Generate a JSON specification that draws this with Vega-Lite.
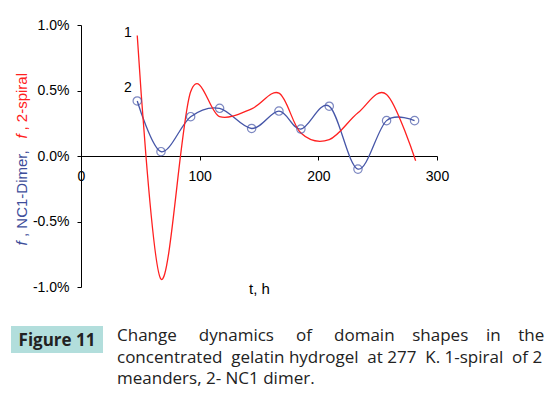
{
  "$schema": "https://vega.github.io/schema/vega-lite/v6.json",
  "background": "white",
  "padding": {"left": 11, "top": 18, "right": 0, "bottom": 0},
  "datasets": {
    "nc1": [
      {"t": 47.4, "f": 0.0042}, {"t": 67.4, "f": 0.00033}, {"t": 92.4, "f": 0.0030},
      {"t": 116.8, "f": 0.00364}, {"t": 143.8, "f": 0.0021}, {"t": 166.8, "f": 0.00343},
      {"t": 185.3, "f": 0.00206}, {"t": 209.2, "f": 0.0038}, {"t": 233.4, "f": -0.0010},
      {"t": 257.5, "f": 0.0027}, {"t": 281.1, "f": 0.0027}
    ],
    "spiral": [
      {"t": 47.4, "f": 0.0092}, {"t": 67.4, "f": -0.0094}, {"t": 92.4, "f": 0.0049},
      {"t": 116.8, "f": 0.0030}, {"t": 143.8, "f": 0.0036}, {"t": 166.8, "f": 0.0048},
      {"t": 185.3, "f": 0.00175}, {"t": 209.2, "f": 0.00125}, {"t": 233.4, "f": 0.0033},
      {"t": 257.5, "f": 0.0047}, {"t": 282.0, "f": -0.00036}
    ],
    "labels": [
      {"t": 39.6, "f": 0.0094, "label": "1"},
      {"t": 39.6, "f": 0.0052, "label": "2"}
    ],
    "box": [{"label": "Figure 11"}],
    "caption": [
      {"line": 1, "text": "Change\u00a0\u00a0\u00a0\u00a0\u00a0dynamics\u00a0\u00a0\u00a0\u00a0\u00a0of\u00a0\u00a0\u00a0\u00a0\u00a0domain\u00a0\u00a0\u00a0\u00a0shapes\u00a0\u00a0\u00a0\u00a0in\u00a0\u00a0\u00a0\u00a0the"},
      {"line": 2, "text": "concentrated\u00a0\u00a0gelatin\u00a0hydrogel\u00a0\u00a0at\u00a0277\u00a0\u00a0K.\u00a01-spiral\u00a0\u00a0of\u00a02"},
      {"line": 3, "text": "meanders, 2- NC1 dimer."}
    ]
  },
  "config": {
    "view": {"stroke": null},
    "axis": {
      "labelFont": "Liberation Sans", "titleFont": "Liberation Sans",
      "labelColor": "#000000", "titleColor": "#000000", "titleFontWeight": "normal",
      "domainColor": "#000000", "tickColor": "#000000", "grid": false
    }
  },
  "vconcat": [
    {
      "hconcat": [
        {
          "width": 1,
          "height": 262,
          "data": {"values": [{}]},
          "mark": {"type": "point", "opacity": 0, "size": 0, "strokeWidth": 0},
          "encoding": {}
        },
        {
          "width": 356,
          "height": 262,
          "layer": [
            {
              "data": {"name": "nc1"},
              "mark": {"type": "line", "interpolate": "cardinal", "color": "#4656a8", "strokeWidth": 1.3},
              "encoding": {
                "x": {
                  "field": "t", "type": "quantitative",
                  "scale": {"domain": [0, 300], "nice": false},
                  "axis": {
                    "values": [0, 100, 200, 300], "offset": -131, "tickSize": 4, "labelPadding": 9,
                    "labelFontSize": 14, "labelFlush": false, "labelOverlap": false,
                    "title": "t, h", "titleFontSize": 15, "titleY": 132, "titleBaseline": "middle"
                  }
                },
                "y": {
                  "field": "f", "type": "quantitative",
                  "scale": {"domain": [-0.01, 0.01], "nice": false},
                  "axis": {
                    "orient": "left",
                    "values": [-0.01, -0.005, 0, 0.005, 0.01], "tickSize": 4, "labelPadding": 8,
                    "labelFontSize": 14, "format": ".1%",
                    "labelExpr": "replace(datum.label, '\u2212', '-')",
                    "title": "f", "titleFontStyle": "italic", "titleColor": "#3d4d9a", "titleFontSize": 15,
                    "titleAngle": 270, "titleAlign": "left", "titleBaseline": "middle",
                    "titleX": -60, "titleY": 220
                  }
                }
              }
            },
            {
              "data": {"name": "spiral"},
              "mark": {"type": "line", "interpolate": "cardinal", "color": "#ff2020", "strokeWidth": 1.3},
              "encoding": {
                "x": {"field": "t", "type": "quantitative"},
                "y": {
                  "field": "f", "type": "quantitative",
                  "scale": {"domain": [-0.01, 0.01], "nice": false},
                  "axis": {
                    "orient": "left", "labels": false, "ticks": false, "domain": false,
                    "title": ", NC1-Dimer,", "titleColor": "#3d4d9a", "titleFontSize": 15,
                    "titleAngle": 270, "titleAlign": "left", "titleBaseline": "middle",
                    "titleX": -60, "titleY": 211.5
                  }
                }
              }
            },
            {
              "data": {"name": "nc1"},
              "mark": {"type": "point", "shape": "circle", "filled": false, "color": "#4656a8", "size": 70, "strokeWidth": 1.2},
              "encoding": {
                "x": {"field": "t", "type": "quantitative"},
                "y": {
                  "field": "f", "type": "quantitative",
                  "scale": {"domain": [-0.01, 0.01], "nice": false},
                  "axis": {
                    "orient": "left", "labels": false, "ticks": false, "domain": false,
                    "title": "f", "titleFontStyle": "italic", "titleColor": "#ff2020", "titleFontSize": 15,
                    "titleAngle": 270, "titleAlign": "left", "titleBaseline": "middle",
                    "titleX": -60, "titleY": 113
                  }
                }
              }
            },
            {
              "data": {"name": "labels"},
              "mark": {"type": "text", "font": "Liberation Sans", "fontSize": 14, "color": "#000000"},
              "encoding": {
                "x": {"field": "t", "type": "quantitative"},
                "y": {
                  "field": "f", "type": "quantitative",
                  "scale": {"domain": [-0.01, 0.01], "nice": false},
                  "axis": {
                    "orient": "left", "labels": false, "ticks": false, "domain": false,
                    "title": ", 2-spiral", "titleColor": "#ff2020", "titleFontSize": 15,
                    "titleAngle": 270, "titleAlign": "left", "titleBaseline": "middle",
                    "titleX": -60, "titleY": 105
                  }
                },
                "text": {"field": "label"}
              }
            }
          ],
          "resolve": {"axis": {"y": "independent"}}
        }
      ],
      "spacing": 2
    },
    {
      "hconcat": [
        {
          "width": 92,
          "height": 27,
          "view": {"fill": "#b2dedc", "stroke": null},
          "data": {"name": "box"},
          "mark": {"type": "text", "font": "Open Sans", "fontSize": 17, "fontWeight": "bold", "color": "#222222", "baseline": "alphabetic", "align": "center", "dy": 6.5},
          "encoding": {"text": {"field": "label"}}
        },
        {
          "width": 430,
          "height": 73,
          "data": {"name": "caption"},
          "mark": {"type": "text", "font": "Open Sans", "fontSize": 17, "color": "#222222", "align": "left", "baseline": "alphabetic"},
          "encoding": {
            "x": {"datum": 0, "type": "quantitative", "scale": {"domain": [0, 1]}, "axis": null},
            "y": {"field": "line", "type": "ordinal", "scale": {"type": "point", "padding": 0.69}, "axis": null},
            "text": {"field": "text"}
          }
        }
      ],
      "spacing": 14
    }
  ],
  "spacing": 30
}
